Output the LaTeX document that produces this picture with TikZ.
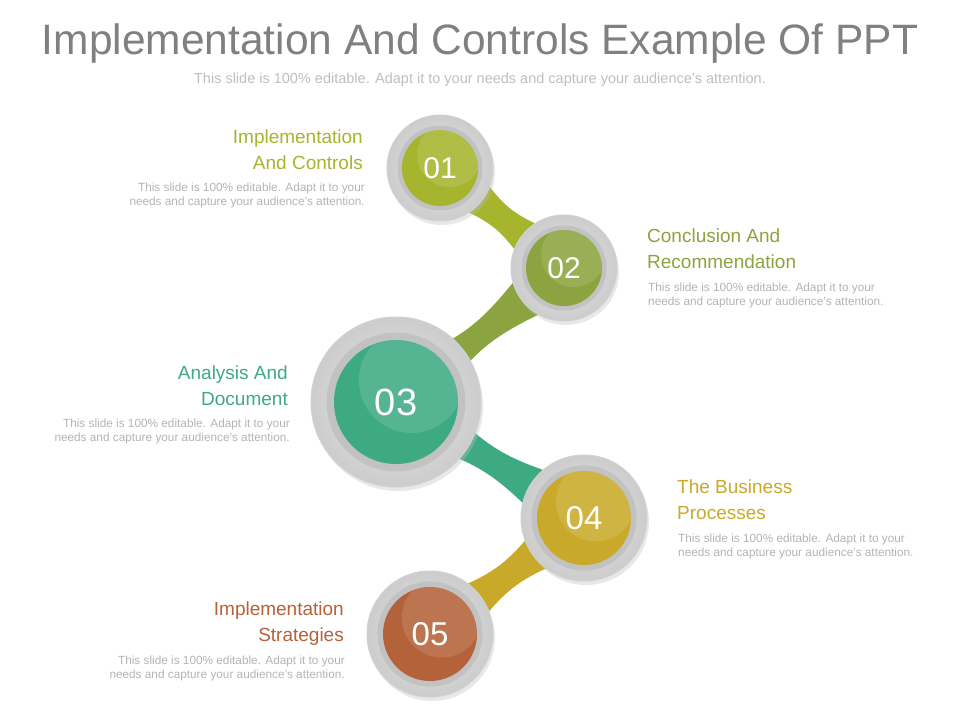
\documentclass[tikz,border=0pt]{standalone}
\usepackage{fontspec}
\setmainfont{Liberation Sans}
\usetikzlibrary{calc}
\definecolor{cA}{HTML}{A6B42E}
\definecolor{cB}{HTML}{8CA43F}
\definecolor{cC}{HTML}{3EAA82}
\definecolor{cD}{HTML}{C9A92A}
\definecolor{cE}{HTML}{B4623A}
\definecolor{bodyg}{HTML}{B4B4B4}
\tikzset{
 head/.style={font=\fontsize{19}{26}\selectfont, inner sep=0pt, align=#1},
 body/.style={font=\fontsize{11.8}{14}\selectfont, text=bodyg, inner sep=0pt, align=#1},
 num/.style={font=\fontsize{30}{30}\selectfont, text=white, inner sep=0pt},
}
\newcommand{\ball}[6]{% name, x, y, outer r, inner r, color
 \coordinate (#1) at (#2,#3);
 \fill[black!25,opacity=.35] (#2+2,#3-4) circle (#4);
 \shade[inner color=black!8, outer color=black!20] (#1) circle (#4);
 \draw[black!18,line width=1pt] (#1) circle (#4);
 \fill[black!24] (#1) circle (1.12*#5);
 \fill[#6] (#1) circle (#5);
 \begin{scope}
 \clip (#1) circle (#5);
 \fill[white,opacity=.12] ($(#1)+(0.25*#5,0.35*#5)$) circle (0.85*#5);
 \end{scope}
}
\newcommand{\link}[4]{% A, B, color, halfwidth
 \fill[#3] ($(#1)!#4pt!90:(#2)$) .. controls ($($(#1)!0.5!(#2)$)!6pt!90:(#2)$) .. ($(#2)!#4pt!-90:(#1)$)
   -- ($(#2)!#4pt!90:(#1)$) .. controls ($($(#1)!0.5!(#2)$)!6pt!-90:(#2)$) .. ($(#1)!#4pt!-90:(#2)$) -- cycle;
}
\begin{document}
\begin{tikzpicture}[x=1pt,y=1pt]
\useasboundingbox[fill=white] (0,0) rectangle (960,-720);
\node[font=\fontsize{42.5}{42}\selectfont, text=black!50, inner sep=0pt] (title) at (480,-44) {Implementation And Controls Example Of PPT};
\node[font=\fontsize{14.5}{16}\selectfont, text=black!25, inner sep=0pt] (sub) at (480,-80) {This slide is 100\% editable. Adapt it to your needs and capture your audience's attention.};
\coordinate (p1) at (440,-168);
\coordinate (p2) at (564,-268);
\coordinate (p3) at (396,-402);
\coordinate (p4) at (584,-518);
\coordinate (p5) at (430,-634);
\link{p1}{p2}{cA}{32}
\link{p2}{p3}{cB}{32}
\link{p3}{p4}{cC}{34}
\link{p4}{p5}{cD}{34}
\ball{n1}{440}{-168}{53}{38}{cA}
\ball{n2}{564}{-268}{53}{38}{cB}
\ball{n3}{396}{-402}{85}{62}{cC}
\ball{n4}{584}{-518}{63}{47}{cD}
\ball{n5}{430}{-634}{63}{47}{cE}
\node[num] (t1) at (n1) {01};
\node[num] (t2) at (n2) {02};
\node[num,font=\fontsize{38}{38}\selectfont] (t3) at (n3) {03};
\node[num,font=\fontsize{33}{33}\selectfont] (t4) at (n4) {04};
\node[num,font=\fontsize{33}{33}\selectfont] (t5) at (n5) {05};
\node[head=right, text=cA, anchor=north east] (h1) at (363,-130) {Implementation\\And Controls};
\node[body=right, anchor=north east] (b1) at (365,-183) {This slide is 100\% editable. Adapt it to your\\needs and capture your audience's attention.};
\node[head=left, text=cB, anchor=north west] (h2) at (647,-229) {Conclusion And\\Recommendation};
\node[body=left, anchor=north west] (b2) at (648,-283) {This slide is 100\% editable. Adapt it to your\\needs and capture your audience's attention.};
\node[head=right, text=cC, anchor=north east] (h3) at (288,-366) {Analysis And\\Document};
\node[body=right, anchor=north east] (b3) at (290,-419) {This slide is 100\% editable. Adapt it to your\\needs and capture your audience's attention.};
\node[head=left, text=cD, anchor=north west] (h4) at (677,-480) {The Business\\Processes};
\node[body=left, anchor=north west] (b4) at (678,-534) {This slide is 100\% editable. Adapt it to your\\needs and capture your audience's attention.};
\node[head=right, text=cE, anchor=north east] (h5) at (344,-602) {Implementation\\Strategies};
\node[body=right, anchor=north east] (b5) at (345,-656) {This slide is 100\% editable. Adapt it to your\\needs and capture your audience's attention.};
\end{tikzpicture}
\end{document}
